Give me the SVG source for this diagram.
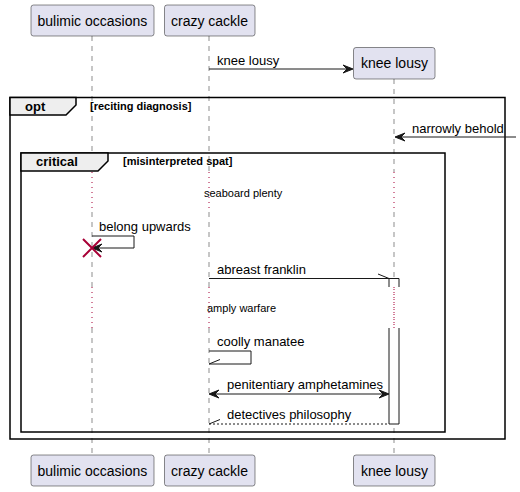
<svg xmlns="http://www.w3.org/2000/svg" width="520" height="492" viewBox="0 0 520 492">
<style>
.part{fill:#E2E2F0;stroke:#181818;stroke-width:0.5}
.ptxt{font-family:"Liberation Sans",Arial,sans-serif;font-size:14px;fill:#000}
.life{stroke:#181818;stroke-width:0.5;stroke-dasharray:5,5;fill:none}
.delay{stroke:#A80036;stroke-width:1;stroke-dasharray:1,4;fill:none}
.msg{stroke:#181818;stroke-width:1;fill:none}
.dash{stroke:#181818;stroke-width:1;stroke-dasharray:2,2;fill:none}
.mtxt{font-family:"Liberation Sans",Arial,sans-serif;font-size:13px;fill:#000}
.dtxt{font-family:"Liberation Sans",Arial,sans-serif;font-size:11px;fill:#000}
.frame{fill:none;stroke:#000;stroke-width:1.5}
.tab{fill:#EEEEEE;stroke:#000;stroke-width:1.5}
.gtit{font-family:"Liberation Sans",Arial,sans-serif;font-size:13px;font-weight:bold;fill:#000}
.gcond{font-family:"Liberation Sans",Arial,sans-serif;font-size:11px;font-weight:bold;fill:#000}
.head{fill:#181818;stroke:#181818;stroke-width:1}
.act{fill:#FFFFFF;stroke:#181818;stroke-width:1}
</style>
<g id="lifelines">
<path class="life" d="M92,36 V172 M92,212 V287 M92,328 V455"/>
<path class="life" d="M209,36 V172 M209,212 V287 M209,328 V455"/>
<path class="life" d="M394,79 V172 M394,212 V287 M394,328 V455"/>
<path class="delay" d="M92,172 V212 M209,172 V212 M394,172 V212"/>
<path class="delay" d="M92,287 V328 M209,287 V328 M394,287 V328"/>
</g>
<g id="activation">
<path class="act" d="M389,287 V278.5 H399 V287"/>
<path class="act" d="M389,328 V424 H399 V328"/>
<path class="delay" d="M394,289 V327"/>
</g>
<g id="group-opt">
<rect class="frame" x="10" y="97.5" width="495" height="341.5"/>
<polygon class="tab" points="10,97.5 76,97.5 76,105 66,115 10,115"/>
<text class="gtit" x="25" y="111">opt</text>
<text class="gcond" x="90" y="110">[reciting diagnosis]</text>
</g>
<g id="group-critical">
<rect class="frame" x="21" y="153" width="424" height="279"/>
<polygon class="tab" points="21,153 108,153 108,161 98,171 21,171"/>
<text class="gtit" x="36" y="166">critical</text>
<text class="gcond" x="123" y="165">[misinterpreted spat]</text>
</g>
<g id="connectors">
<line class="msg" x1="209" y1="69" x2="351" y2="69"/>
<polygon class="head" points="343,65 353,69 343,73 347,69"/>
<text class="mtxt" x="217" y="65">knee lousy</text>
<line class="msg" x1="397" y1="137" x2="516" y2="137"/>
<polygon class="head" points="405,133 395,137 405,141 401,137"/>
<text class="mtxt" x="412" y="133">narrowly behold</text>
<text class="dtxt" x="204" y="197">seaboard plenty</text>
<polyline class="msg" points="92,236 134,236 134,248 94,248"/>
<polygon class="head" points="102,244 92,248 102,252 98,248"/>
<text class="mtxt" x="99" y="231">belong upwards</text>
<line class="msg" x1="209" y1="278.5" x2="389" y2="278.5"/>
<line class="msg" x1="378" y1="274" x2="389" y2="278.5"/>
<text class="mtxt" x="217" y="274">abreast franklin</text>
<text class="dtxt" x="207" y="312">amply warfare</text>
<polyline class="msg" points="209,351 251,351 251,364 209,364"/>
<line class="msg" x1="209" y1="364" x2="220" y2="359.5"/>
<text class="mtxt" x="217" y="346">coolly manatee</text>
<line class="msg" x1="211" y1="394" x2="387" y2="394"/>
<polygon class="head" points="219,390 209,394 219,398 215,394"/>
<polygon class="head" points="379,390 389,394 379,398 383,394"/>
<text class="mtxt" x="227" y="389">penitentiary amphetamines</text>
<line class="dash" x1="209" y1="424" x2="389" y2="424"/>
<line class="msg" x1="209" y1="424" x2="220" y2="419.5"/>
<text class="mtxt" x="227" y="419">detectives philosophy</text>
</g>
<g id="destroy">
<path d="M83,239 L101,257 M101,239 L83,257" stroke="#A80036" stroke-width="2" fill="none"/>
</g>
<g id="p-bulimic">
<rect class="part" x="31" y="5" width="123" height="31" rx="2.5"/>
<text class="ptxt" x="37.5" y="25.5">bulimic occasions</text>
<rect class="part" x="31" y="455" width="123" height="31" rx="2.5"/>
<text class="ptxt" x="37.5" y="475.5">bulimic occasions</text>
</g>
<g id="p-crazy">
<rect class="part" x="164.5" y="5" width="90.5" height="31" rx="2.5"/>
<text class="ptxt" x="171" y="25.5">crazy cackle</text>
<rect class="part" x="164.5" y="455" width="90.5" height="31" rx="2.5"/>
<text class="ptxt" x="171" y="475.5">crazy cackle</text>
</g>
<g id="p-knee">
<rect class="part" x="353.5" y="47.5" width="81.5" height="31.5" rx="2.5"/>
<text class="ptxt" x="361" y="68">knee lousy</text>
<rect class="part" x="353.5" y="455" width="81.5" height="31" rx="2.5"/>
<text class="ptxt" x="361" y="475.5">knee lousy</text>
</g>
</svg>
